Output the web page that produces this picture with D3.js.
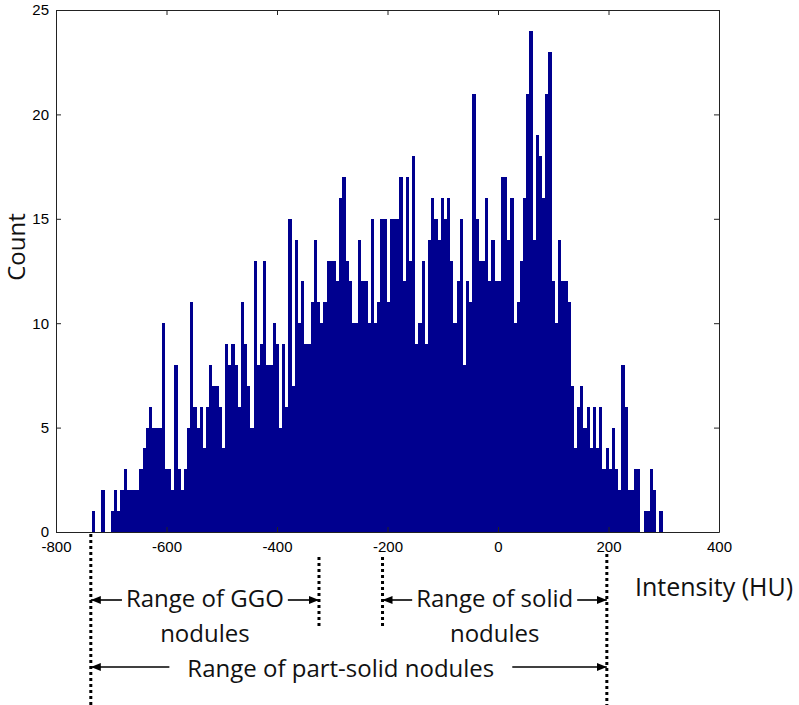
<!DOCTYPE html>
<html>
<head>
<meta charset="utf-8">
<script src="https://cdn.jsdelivr.net/npm/d3@7"></script>
<style>
  body { margin: 0; background: #fff; }
  svg { display: block; }
  .tick text { font-family: "Liberation Sans", Arial, sans-serif; font-size: 15px; fill: #000; }
  .note { font-family: "Open Sans", sans-serif; font-size: 24px; fill: #111; }
</style>
</head>
<body>
<div id="chart"></div>
<script>
// histogram, 180 equal bins between binStart and binEnd (HU)
const binStart = -735;
const binEnd = 298;
const counts = [
  1, 0, 0, 2, 0, 0, 1, 2, 1, 2,
  3, 2, 2, 2, 2, 3, 4, 5, 6, 5,
  5, 5, 10, 3, 3, 2, 8, 3, 2, 3,
  5, 11, 6, 5, 6, 4, 6, 8, 7, 7,
  6, 4, 9, 8, 9, 8, 6, 11, 9, 7,
  5, 13, 8, 9, 13, 8, 8, 10, 9, 5,
  9, 6, 15, 7, 14, 10, 12, 9, 9, 11,
  14, 11, 10, 11, 13, 13, 13, 12, 16, 17,
  13, 12, 10, 10, 14, 12, 12, 10, 15, 10,
  11, 15, 15, 11, 15, 15, 15, 17, 12, 17,
  13, 18, 9, 10, 13, 9, 14, 16, 15, 14,
  16, 15, 16, 13, 10, 12, 15, 8, 12, 11,
  21, 15, 13, 13, 16, 12, 14, 12, 12, 17,
  17, 14, 16, 10, 11, 13, 16, 21, 24, 14,
  19, 18, 16, 21, 23, 12, 10, 14, 12, 12,
  11, 7, 4, 6, 7, 5, 6, 4, 6, 4,
  6, 3, 4, 3, 5, 3, 2, 8, 6, 2,
  2, 3, 3, 0, 1, 1, 3, 2, 0, 1
];
const xTicks = [-800, -600, -400, -200, 0, 200, 400];
const yTicks = [0, 5, 10, 15, 20, 25];

// annotated HU ranges
const rangeLabels = [["Range of GGO", "nodules"], ["Range of solid", "nodules"], ["Range of part-solid nodules"]];
const rangeFrom = [-737, -209, -737];
const rangeTo = [-324, 197, 197];

const width = 799, height = 705;
const margin = { top: 10, right: 80, bottom: 173, left: 56 };
const iwidth = width - margin.left - margin.right;
const iheight = height - margin.top - margin.bottom;
const barColor = "#00008f";

const svg = d3.select("#chart").append("svg")
  .attr("width", width)
  .attr("height", height);

const defs = svg.append("defs");
defs.append("marker")
  .attr("id", "head")
  .attr("viewBox", "0 0 10 8")
  .attr("refX", 10).attr("refY", 4)
  .attr("markerWidth", 10).attr("markerHeight", 8)
  .attr("markerUnits", "userSpaceOnUse")
  .attr("orient", "auto")
  .append("path")
  .attr("d", "M0,0L10,4L0,8Z")
  .attr("fill", "#000");

const g = svg.append("g")
  .attr("transform", `translate(${margin.left},${margin.top})`);

const x = d3.scaleLinear().domain([-800, 400]).range([0, iwidth]);
const y = d3.scaleLinear().domain([0, 25]).range([iheight, 0]);

const binWidth = (binEnd - binStart) / counts.length;
const bins = counts.map((c, i) => ({
  x0: binStart + i * binWidth,
  x1: binStart + (i + 1) * binWidth,
  count: c
}));

g.selectAll("rect.bar")
  .data(bins.filter((d) => d.count > 0))
  .enter()
  .append("rect")
  .attr("class", "bar")
  .attr("fill", barColor)
  .attr("shape-rendering", "crispEdges")
  .attr("x", (d) => x(d.x0))
  .attr("y", (d) => y(d.count))
  .attr("width", (d) => x(d.x1) - x(d.x0))
  .attr("height", (d) => iheight - y(d.count));

// MATLAB-like box with inward ticks
const fmt = (d) => (d < 0 ? "-" + Math.abs(d) : String(d));
g.append("g")
  .attr("transform", `translate(0,${iheight})`)
  .call(d3.axisBottom(x).tickValues(xTicks).tickSize(-5).tickSizeOuter(0).tickPadding(9).tickFormat(fmt));
g.append("g")
  .call(d3.axisTop(x).tickValues(xTicks).tickSize(-5).tickSizeOuter(0).tickFormat(""));
g.append("g")
  .call(d3.axisLeft(y).tickValues(yTicks).tickSize(-5).tickSizeOuter(0).tickPadding(7));
g.append("g")
  .attr("transform", `translate(${iwidth},0)`)
  .call(d3.axisRight(y).tickValues(yTicks).tickSize(-5).tickSizeOuter(0).tickFormat(""));
g.selectAll(".domain, .tick line").attr("stroke", "#222");

// axis titles
svg.append("text")
  .attr("class", "note")
  .attr("transform", "translate(25,247) rotate(-90)")
  .attr("text-anchor", "middle")
  .text("Count");
svg.append("text")
  .attr("class", "note")
  .attr("x", 635).attr("y", 596)
  .style("font-size", "25px")
  .text("Intensity (HU)");

// dotted range boundaries
const ann = svg.append("g").attr("transform", `translate(${margin.left},0)`);
const lineSpans = [
  { v: -737, y0: 534, y1: 705 },
  { v: -324, y0: 557, y1: 628 },
  { v: -209, y0: 557, y1: 628 },
  { v: 197, y0: 554, y1: 705 }
];
ann.selectAll("line.dot")
  .data(lineSpans)
  .enter()
  .append("line")
  .attr("class", "dot")
  .attr("x1", (d) => x(d.v)).attr("x2", (d) => x(d.v))
  .attr("y1", (d) => d.y0).attr("y2", (d) => d.y1)
  .attr("stroke", "#000")
  .attr("stroke-width", 3)
  .attr("stroke-dasharray", "3,3");

// labels with arrows
const rows = [
  { y: 607, arrowY: 600, gap: 4, dx: 0 },
  { y: 607, arrowY: 600, gap: 4, dx: 0 },
  { y: 677, arrowY: 667, gap: 18, dx: -8 }
];
rangeLabels.forEach((lines, i) => {
  const a = x(rangeFrom[i]), b = x(rangeTo[i]);
  const cx = (a + b) / 2 + rows[i].dx;
  const t = ann.append("text")
    .attr("class", "note")
    .attr("x", cx).attr("y", rows[i].y)
    .attr("text-anchor", "middle")
    .text(lines[0]);
  const box = t.node().getBBox();
  ann.append("line")
    .attr("x1", box.x - rows[i].gap).attr("x2", a)
    .attr("y1", rows[i].arrowY).attr("y2", rows[i].arrowY)
    .attr("stroke", "#000").attr("stroke-width", 1.6)
    .attr("marker-end", "url(#head)");
  ann.append("line")
    .attr("x1", box.x + box.width + rows[i].gap).attr("x2", b)
    .attr("y1", rows[i].arrowY).attr("y2", rows[i].arrowY)
    .attr("stroke", "#000").attr("stroke-width", 1.6)
    .attr("marker-end", "url(#head)");
  if (lines[1]) {
    ann.append("text")
      .attr("class", "note")
      .attr("x", cx).attr("y", rows[i].y + 35)
      .attr("text-anchor", "middle")
      .text(lines[1]);
  }
});
</script>
</body>
</html>
